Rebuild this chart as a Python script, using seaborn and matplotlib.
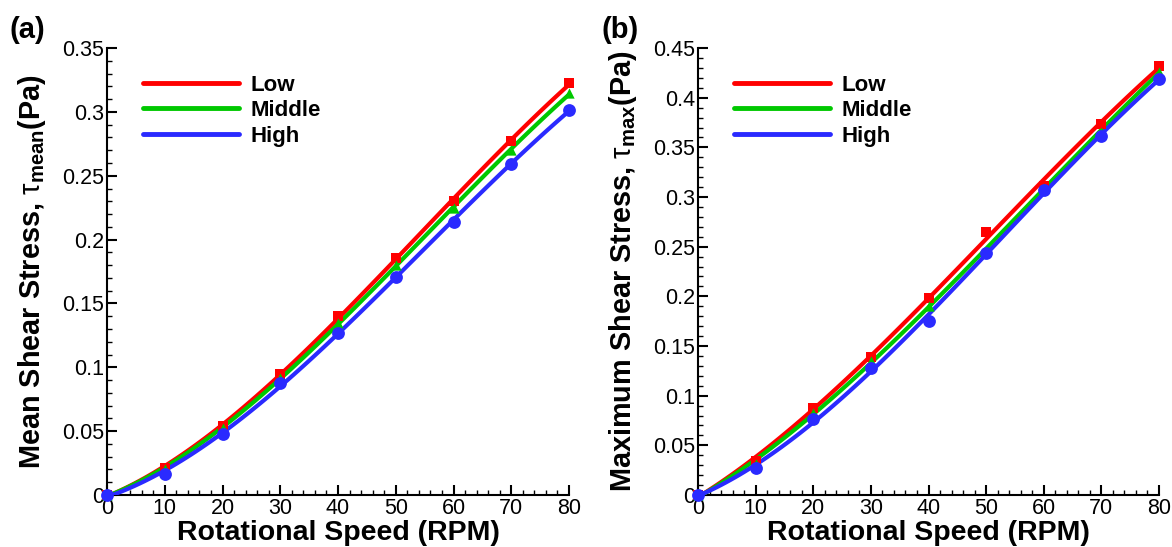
import numpy as np
import pandas as pd
import matplotlib
matplotlib.use("Agg")
import matplotlib.pyplot as plt
import seaborn as sns
from matplotlib.ticker import MultipleLocator, FuncFormatter

# ── data ─────────────────────────────────────────────────────────────────────
rpm = [0, 10, 20, 30, 40, 50, 60, 70, 80]

mean_low = [0, 0.021, 0.0543, 0.0947, 0.140, 0.1853, 0.2305, 0.2772, 0.3223]
mean_mid = [0, 0.020, 0.0527, 0.0913, 0.135, 0.180, 0.2245, 0.270, 0.3145]
mean_high = [0, 0.0164, 0.048, 0.0874, 0.1266, 0.171, 0.214, 0.259, 0.3014]

max_low = [0, 0.0345, 0.0873, 0.139, 0.1986, 0.265, 0.3114, 0.374, 0.432]
max_mid = [0, 0.031, 0.0822, 0.135, 0.1906, 0.246, 0.309, 0.366, 0.426]
max_high = [0, 0.0268, 0.0762, 0.128, 0.175, 0.2433, 0.307, 0.3614, 0.4185]

levels = ["Low", "Middle", "High"]
colors = {"Low": "#ff0000", "Middle": "#00c800", "High": "#2a2aff"}
markers = {"Low": "s", "Middle": "^", "High": "o"}
msize = {"Low": 55, "Middle": 55, "High": 85}

sns.set_style("ticks")
plt.rcParams["font.family"] = ["Liberation Sans", "DejaVu Sans"]
plt.rcParams["mathtext.fontset"] = "custom"
plt.rcParams["mathtext.rm"] = "Liberation Sans"
plt.rcParams["mathtext.bf"] = "Liberation Sans:bold"
plt.rcParams["mathtext.it"] = "Liberation Sans:italic"
for k in ["text.color", "axes.labelcolor", "xtick.color", "ytick.color", "axes.edgecolor"]:
    plt.rcParams[k] = "black"

fig = plt.figure(figsize=(11.72, 5.47), dpi=100)
ax_a = fig.add_axes([0.0913, 0.0951, 0.3942, 0.817])
ax_b = fig.add_axes([0.5956, 0.0951, 0.3933, 0.817])

panels = [
    (ax_a, [mean_low, mean_mid, mean_high], 0.35,
     r"Mean Shear Stress, $\mathrm{\tau}_{\mathbf{mean}}$(Pa)", "(a)"),
    (ax_b, [max_low, max_mid, max_high], 0.45,
     r"Maximum Shear Stress, $\mathrm{\tau}_{\mathbf{max}}$(Pa)", "(b)"),
]

for ax, series, ymax, ylabel, tag in panels:
    df = pd.DataFrame({"rpm": rpm * 3,
                       "tau": series[0] + series[1] + series[2],
                       "level": np.repeat(levels, len(rpm))})
    handles = []
    for lev in levels:
        sub = df[df["level"] == lev]
        sns.regplot(data=sub, x="rpm", y="tau", order=3, ci=None, ax=ax,
                    marker=markers[lev],
                    scatter_kws=dict(color=colors[lev], s=msize[lev],
                                     linewidths=0, alpha=1, clip_on=False, zorder=4),
                    line_kws=dict(color=colors[lev], lw=3, zorder=3))
        handles.append(plt.Line2D([], [], color=colors[lev], lw=3.5, label=lev))

    ax.set_xlim(0, 80)
    ax.set_ylim(0, ymax)
    ax.xaxis.set_major_locator(MultipleLocator(10))
    ax.xaxis.set_minor_locator(MultipleLocator(2))
    ax.yaxis.set_major_locator(MultipleLocator(0.05))
    ax.yaxis.set_minor_locator(MultipleLocator(0.01))
    ax.yaxis.set_major_formatter(FuncFormatter(lambda v, p: f"{v:g}"))
    ax.tick_params(which="major", direction="in", length=7, width=1.5,
                   labelsize=15.5, pad=2)
    ax.tick_params(which="minor", direction="in", length=3.5, width=1)
    sns.despine(ax=ax)
    for s in ["left", "bottom"]:
        ax.spines[s].set_linewidth(1.5)

    ax.set_xlabel("Rotational Speed (RPM)", fontsize=20.5, fontweight="bold", labelpad=1)
    ax.set_ylabel(ylabel, fontsize=20.8, fontweight="bold", labelpad=10)

    ax.legend(handles=handles, loc="upper left", bbox_to_anchor=(0.035, 0.985),
              frameon=False, handlelength=4.3, handletextpad=0.55,
              labelspacing=0.2, prop={"weight": "bold", "size": 16})

    ax.text(-0.21, 1.01, tag, transform=ax.transAxes, fontsize=21,
            fontweight="bold", ha="left", va="bottom")

fig.savefig("out.png", dpi=100)
